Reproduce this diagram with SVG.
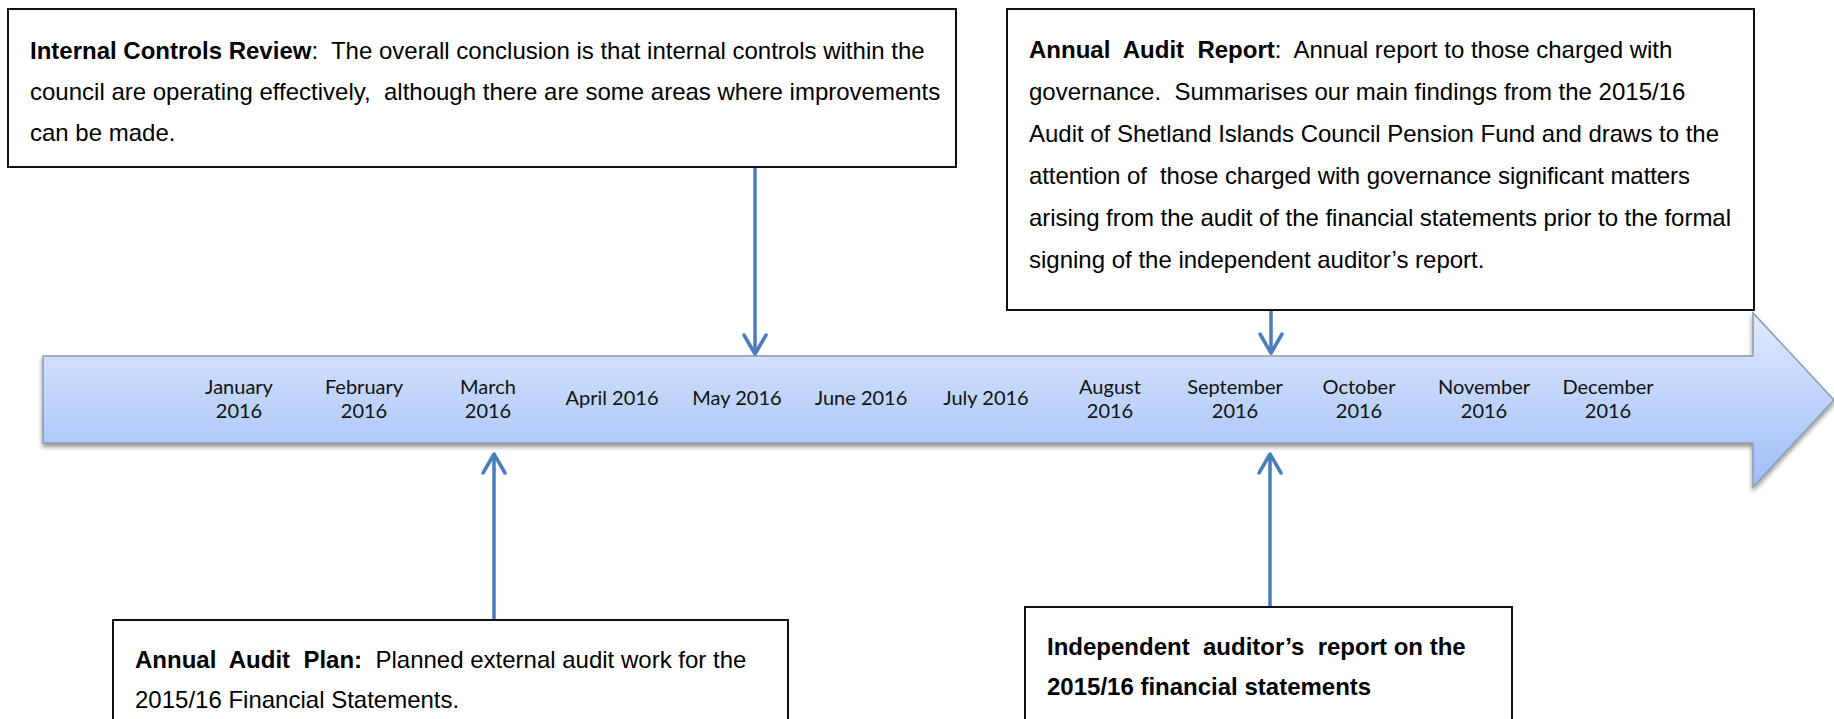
<svg xmlns="http://www.w3.org/2000/svg" width="1834" height="719" viewBox="0 0 1834 719">
  <style>
    .box { fill: #ffffff; stroke: #111111; stroke-width: 2; }
    .t { font-family: "Liberation Sans", Arial, sans-serif; font-size: 24px; fill: #000000; white-space: pre; }
    .b { font-weight: bold; }
    .m { font-family: Lato, "Liberation Sans", sans-serif; font-size: 20px; fill: #111111; text-anchor: middle; }
    .conn { stroke: #4a7ebb; stroke-width: 3.5; fill: none; marker-end: url(#chev); }
  </style>
  <defs>
    <linearGradient id="tlGrad" x1="0" y1="0" x2="0" y2="1">
      <stop offset="0" stop-color="#e0eafe"/>
      <stop offset="1" stop-color="#9ebef7"/>
    </linearGradient>
    <filter id="shadow" x="-5%" y="-20%" width="110%" height="150%">
      <feGaussianBlur in="SourceAlpha" stdDeviation="2.5"/>
      <feOffset dy="3" result="b"/>
      <feComponentTransfer><feFuncA type="linear" slope="0.45"/></feComponentTransfer>
      <feMerge><feMergeNode/><feMergeNode in="SourceGraphic"/></feMerge>
    </filter>
    <marker id="chev" markerUnits="userSpaceOnUse" viewBox="-22 -14 24 28" refX="0" refY="0" markerWidth="24" markerHeight="28" orient="auto">
      <path d="M-19,-11 L0,0 L-19,11" fill="none" stroke="#4a7ebb" stroke-width="3.5" stroke-linejoin="round" stroke-linecap="round"/>
    </marker>
  </defs>

  <g id="timeline">
    <path d="M43,356 L1753,356 L1753,313 L1834,400 L1753,487 L1753,443 L43,443 Z" fill="url(#tlGrad)" stroke="#8f9aab" stroke-width="1.5" filter="url(#shadow)"/>
    <text class="m"><tspan x="239" y="394">January</tspan><tspan x="239" y="418">2016</tspan></text>
    <text class="m"><tspan x="364" y="394">February</tspan><tspan x="364" y="418">2016</tspan></text>
    <text class="m"><tspan x="488" y="394">March</tspan><tspan x="488" y="418">2016</tspan></text>
    <text class="m" x="612" y="405">April 2016</text>
    <text class="m" x="737" y="405">May 2016</text>
    <text class="m" x="861" y="405">June 2016</text>
    <text class="m" x="986" y="405">July 2016</text>
    <text class="m"><tspan x="1110" y="394">August</tspan><tspan x="1110" y="418">2016</tspan></text>
    <text class="m"><tspan x="1235" y="394">September</tspan><tspan x="1235" y="418">2016</tspan></text>
    <text class="m"><tspan x="1359" y="394">October</tspan><tspan x="1359" y="418">2016</tspan></text>
    <text class="m"><tspan x="1484" y="394">November</tspan><tspan x="1484" y="418">2016</tspan></text>
    <text class="m"><tspan x="1608" y="394">December</tspan><tspan x="1608" y="418">2016</tspan></text>
  </g>

  <g id="internal-controls-review">
    <rect class="box" x="8" y="9" width="948" height="158"/>
    <text class="t" x="30" y="59"><tspan class="b">Internal Controls Review</tspan>:  The overall conclusion is that internal controls within the</text>
    <text class="t" x="30" y="100">council are operating effectively,  although there are some areas where improvements</text>
    <text class="t" x="30" y="141">can be made.</text>
  </g>

  <g id="annual-audit-report">
    <rect class="box" x="1007" y="9" width="747" height="301"/>
    <text class="t" x="1029" y="58"><tspan class="b">Annual  Audit  Report</tspan>:  Annual report to those charged with</text>
    <text class="t" x="1029" y="100">governance.  Summarises our main findings from the 2015/16</text>
    <text class="t" x="1029" y="142" textLength="690" lengthAdjust="spacing">Audit of Shetland Islands Council Pension Fund and draws to the</text>
    <text class="t" x="1029" y="184" textLength="661" lengthAdjust="spacing">attention of  those charged with governance significant matters</text>
    <text class="t" x="1029" y="226" textLength="702" lengthAdjust="spacing">arising from the audit of the financial statements prior to the formal</text>
    <text class="t" x="1029" y="268">signing of the independent auditor’s report.</text>
  </g>

  <g id="annual-audit-plan">
    <rect class="box" x="113" y="620" width="675" height="120"/>
    <text class="t" x="135" y="668"><tspan class="b">Annual  Audit  Plan:</tspan>  Planned external audit work for the</text>
    <text class="t" x="135" y="708">2015/16 Financial Statements.</text>
  </g>

  <g id="independent-auditors-report">
    <rect class="box" x="1025" y="607" width="487" height="130"/>
    <text class="t b" x="1047" y="655">Independent  auditor’s  report on the</text>
    <text class="t b" x="1047" y="695">2015/16 financial statements</text>
  </g>

  <g id="connectors">
    <path class="conn" d="M755,168 L755,354"/>
    <path class="conn" d="M1271,311 L1271,353"/>
    <path class="conn" d="M494,619 L494,454"/>
    <path class="conn" d="M1270,606 L1270,454"/>
  </g>
</svg>
